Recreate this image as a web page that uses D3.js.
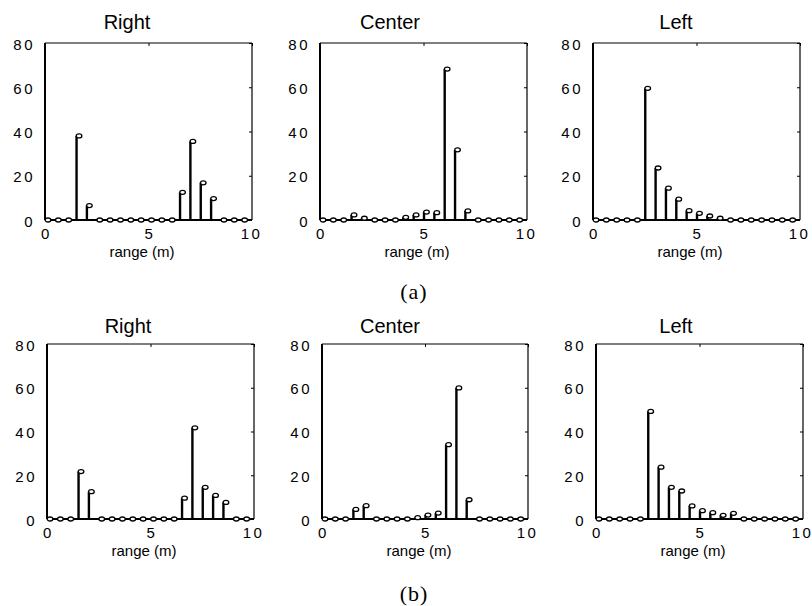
<!DOCTYPE html>
<html>
<head>
<meta charset="utf-8">
<script src="https://cdn.jsdelivr.net/npm/d3@7"></script>
<style>
  body { margin: 0; background: #fff; }
  svg { display: block; }
  .tick text { font-family: "Liberation Sans", Arial, sans-serif; font-size: 15px; letter-spacing: 2.5px; fill: #000; }
  .ttl { font-family: "Liberation Sans", Arial, sans-serif; font-size: 20px; }
  .xlab { font-family: "Liberation Sans", Arial, sans-serif; font-size: 15px; }
  .cap { font-family: "Liberation Serif", "Times New Roman", serif; font-size: 22px; letter-spacing: 1px; }
</style>
</head>
<body>
<div id="chart"></div>
<script>
// range bins (m)
var rangeM = [0, 0.5, 1, 1.5, 2, 2.5, 3, 3.5, 4, 4.5, 5, 5.5, 6, 6.5, 7, 7.5, 8, 8.5, 9, 9.5]
var xTicks = [0, 5, 10]
var yTicks = [0, 20, 40, 60, 80]

// (a)
var rightA  = [0, 0, 0, 38, 6.5, 0, 0, 0, 0, 0, 0, 0, 0, 12.5, 35.5, 16.8, 9.7, 0, 0, 0]
var centerA = [0, 0, 0, 2.3, 0.8, 0, 0, 0, 1.2, 2.3, 3.6, 3.3, 68.2, 31.7, 4.1, 0, 0, 0, 0, 0]
var leftA   = [0, 0, 0, 0, 0, 59.5, 23.5, 14.4, 9.4, 4.2, 3.0, 1.8, 0.8, 0, 0, 0, 0, 0, 0, 0]
// (b)
var rightB  = [0, 0, 0, 21.7, 12.5, 0, 0, 0, 0, 0, 0, 0, 0, 9.5, 41.7, 14.5, 10.8, 7.6, 0, 0]
var centerB = [0, 0, 0, 4.4, 6.1, 0, 0, 0, 0, 0.6, 1.8, 2.7, 34.0, 59.9, 8.8, 0, 0, 0, 0, 0]
var leftB   = [0, 0, 0, 0, 0, 49.2, 23.7, 14.5, 12.8, 6.0, 3.8, 2.9, 1.7, 2.6, 0, 0, 0, 0, 0, 0]

var W = 812, H = 606

var panels = [
    {title: "Right",  vals: rightA,  left: 45,  top: 43,  w: 207, h: 177, tx: 82, ty: -14},
    {title: "Center", vals: centerA, left: 320, top: 43,  w: 207, h: 177, tx: 70, ty: -14},
    {title: "Left",   vals: leftA,   left: 593, top: 43,  w: 207, h: 177, tx: 83, ty: -14},
    {title: "Right",  vals: rightB,  left: 47,  top: 344, w: 207, h: 175, tx: 81, ty: -11},
    {title: "Center", vals: centerB, left: 322, top: 344, w: 206, h: 175, tx: 68, ty: -11},
    {title: "Left",   vals: leftB,   left: 596, top: 344, w: 207, h: 175, tx: 80, ty: -11}
]

var svg = d3.select("#chart").append("svg")
    .attr("width", W)
    .attr("height", H)

panels.forEach(function (p) {
    var g = svg.append("g")
        .attr("transform", "translate(" + p.left + "," + p.top + ")")

    var x = d3.scaleLinear().domain([0, 10]).range([0, p.w])
    var y = d3.scaleLinear().domain([0, 80]).range([p.h, 0])

    // y labels (left)
    var yAxis = g.append("g")
        .call(d3.axisLeft(y).tickValues(yTicks).tickSize(0).tickPadding(10))
    yAxis.select(".domain").remove()
    yAxis.selectAll("text").attr("dy", "0.4em")

    // x labels (bottom)
    var xAxis = g.append("g")
        .attr("transform", "translate(0," + p.h + ")")
        .call(d3.axisBottom(x).tickValues(xTicks).tickSize(0).tickPadding(8))
    xAxis.select(".domain").remove()
    xAxis.selectAll("text").attr("dx", function (d) { return d === 10 ? "-1px" : "1px" })

    // inward ticks on top and right
    var topAx = g.append("g")
        .call(d3.axisTop(x).tickValues(xTicks).tickSize(-3).tickFormat(""))
    topAx.select(".domain").remove()
    var rightAx = g.append("g")
        .attr("transform", "translate(" + p.w + ",0)")
        .call(d3.axisRight(y).tickValues(yTicks).tickSize(-3).tickFormat(""))
    rightAx.select(".domain").remove()
    g.selectAll(".tick line").attr("stroke", "#000").attr("stroke-width", 1)

    // box
    g.append("line").attr("x1", 0).attr("x2", p.w).attr("y1", 0).attr("y2", 0)
        .attr("stroke", "#000").attr("stroke-width", 1.2)
    g.append("line").attr("x1", p.w).attr("x2", p.w).attr("y1", 0).attr("y2", p.h)
        .attr("stroke", "#000").attr("stroke-width", 1.2)
    g.append("line").attr("x1", 0).attr("x2", 0).attr("y1", 0).attr("y2", p.h)
        .attr("stroke", "#000").attr("stroke-width", 2)
    g.append("line").attr("x1", 0).attr("x2", p.w).attr("y1", p.h).attr("y2", p.h)
        .attr("stroke", "#000").attr("stroke-width", 2.2)

    var pts = rangeM.map(function (r, i) { return {r: r, v: p.vals[i]} })

    // stems
    g.selectAll(".stem")
        .data(pts.filter(function (d) { return d.v > 0 }))
        .enter().append("line")
        .attr("class", "stem")
        .attr("x1", function (d) { return x(d.r) + 0.5 })
        .attr("x2", function (d) { return x(d.r) + 0.5 })
        .attr("y1", y(0))
        .attr("y2", function (d) { return y(d.v) })
        .attr("stroke", "#000")
        .attr("stroke-width", 2.4)

    // markers
    g.selectAll(".mk")
        .data(pts)
        .enter().append("ellipse")
        .attr("class", "mk")
        .attr("cx", function (d) { return x(d.r) + 3 })
        .attr("cy", function (d) { return y(d.v) })
        .attr("rx", 2.8)
        .attr("ry", 2)
        .attr("fill", "#fff")
        .attr("stroke", "#000")
        .attr("stroke-width", 1.3)

    g.append("text")
        .attr("class", "ttl")
        .attr("x", p.tx)
        .attr("y", p.ty)
        .attr("text-anchor", "middle")
        .text(p.title)

    g.append("text")
        .attr("class", "xlab")
        .attr("x", 97)
        .attr("y", p.h + 37)
        .attr("text-anchor", "middle")
        .text("range (m)")
})

svg.append("text").attr("class", "cap")
    .attr("x", 414).attr("y", 299)
    .attr("text-anchor", "middle")
    .text("(a)")
svg.append("text").attr("class", "cap")
    .attr("x", 414).attr("y", 601)
    .attr("text-anchor", "middle")
    .text("(b)")
</script>
</body>
</html>
